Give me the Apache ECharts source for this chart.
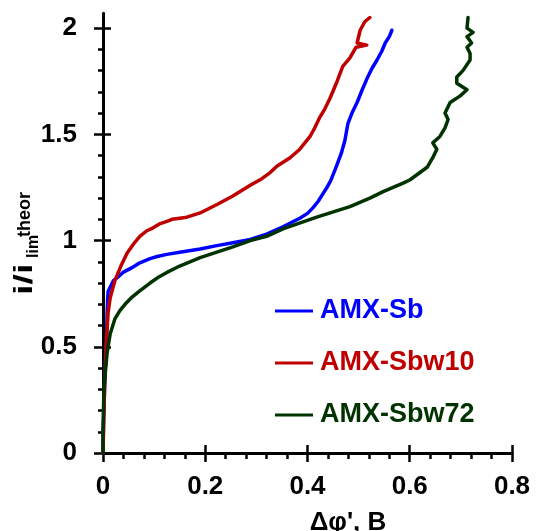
<!DOCTYPE html>
<html><head><meta charset="utf-8">
<script src="https://cdn.jsdelivr.net/npm/echarts@6/dist/echarts.min.js"></script>
<style>html,body{margin:0;padding:0;background:#fff}#c{width:537px;height:531px}</style>
</head><body><div id="c"></div>
<script>
// ---- data ----
const seriesNames = ['AMX-Sb', 'AMX-Sbw10', 'AMX-Sbw72'];
const seriesColors = ['#0000FF', '#C00000', '#003300'];

const sbX = [0, 0.001, 0.003, 0.005, 0.007, 0.008, 0.009, 0.010, 0.014, 0.020, 0.030, 0.039, 0.055, 0.072, 0.092, 0.106, 0.125, 0.150, 0.190, 0.220, 0.254, 0.288, 0.320, 0.352, 0.385, 0.400, 0.411, 0.421, 0.430, 0.438, 0.445, 0.455, 0.466, 0.473, 0.479, 0.487, 0.497, 0.507, 0.516, 0.526, 0.536, 0.545, 0.552, 0.560, 0.565];
const sbY = [0, 0.15, 0.30, 0.45, 0.55, 0.65, 0.72, 0.76, 0.78, 0.81, 0.83, 0.85, 0.87, 0.895, 0.915, 0.925, 0.935, 0.945, 0.96, 0.975, 0.99, 1.005, 1.03, 1.065, 1.105, 1.128, 1.155, 1.185, 1.22, 1.25, 1.28, 1.34, 1.41, 1.47, 1.55, 1.60, 1.65, 1.71, 1.76, 1.81, 1.85, 1.89, 1.93, 1.96, 1.99];

const w10X = [0, 0.001, 0.003, 0.006, 0.010, 0.014, 0.023, 0.035, 0.047, 0.060, 0.072, 0.085, 0.098, 0.112, 0.125, 0.135, 0.150, 0.164, 0.190, 0.223, 0.254, 0.288, 0.310, 0.327, 0.340, 0.366, 0.385, 0.405, 0.414, 0.424, 0.434, 0.444, 0.458, 0.469, 0.483, 0.495, 0.516, 0.497, 0.503, 0.512, 0.522];
const w10Y = [0, 0.10, 0.30, 0.50, 0.66, 0.73, 0.81, 0.88, 0.94, 0.985, 1.02, 1.045, 1.06, 1.08, 1.09, 1.10, 1.105, 1.11, 1.13, 1.17, 1.21, 1.26, 1.29, 1.32, 1.35, 1.39, 1.43, 1.49, 1.53, 1.58, 1.62, 1.67, 1.75, 1.82, 1.86, 1.91, 1.92, 1.93, 1.99, 2.03, 2.05];

const w72X = [0, 0.000, 0.002, 0.008, 0.014, 0.023, 0.033, 0.043, 0.055, 0.070, 0.092, 0.110, 0.125, 0.150, 0.190, 0.254, 0.288, 0.320, 0.352, 0.418, 0.483, 0.522, 0.548, 0.587, 0.600, 0.634, 0.645, 0.653, 0.645, 0.659, 0.669, 0.675, 0.669, 0.679, 0.698, 0.712, 0.692, 0.692, 0.704, 0.718, 0.718, 0.712, 0.721, 0.712, 0.724, 0.712, 0.714];
const w72Y = [0, 0.11, 0.31, 0.47, 0.56, 0.63, 0.67, 0.70, 0.73, 0.76, 0.80, 0.83, 0.85, 0.88, 0.92, 0.97, 1.00, 1.02, 1.055, 1.11, 1.16, 1.20, 1.23, 1.27, 1.285, 1.345, 1.39, 1.43, 1.46, 1.49, 1.53, 1.57, 1.60, 1.65, 1.68, 1.71, 1.74, 1.77, 1.80, 1.85, 1.88, 1.91, 1.93, 1.96, 1.98, 2.00, 2.05];

const xTickInterval = 0.2;
const yMajorTicks = [0, 0.5, 1, 1.5, 2];
const yMinorTicks = [0.1, 0.2, 0.3, 0.4, 0.6, 0.7, 0.8, 0.9, 1.1, 1.2, 1.3, 1.4, 1.6, 1.7, 1.8, 1.9];

// ---- chart ----
const FF = "'Liberation Sans', Arial, sans-serif";
const zip = (xs, ys) => xs.map((x, i) => [x, ys[i]]);
const seriesData = [zip(sbX, sbY), zip(w10X, w10Y), zip(w72X, w72Y)];

const axLine = {show: true, lineStyle: {color: '#000', width: 3}};
const tickStyle = {color: '#000', width: 2.5};
const Y_MAX = 2.07;

const chart = echarts.init(document.getElementById('c'), null, {renderer: 'canvas'});
chart.setOption({
  animation: false,
  backgroundColor: '#fff',
  grid: {left: 103, right: 25, top: 13.25, bottom: 78, containLabel: false, outerBoundsMode: 'none'},
  xAxis: [
    {type: 'value', min: 0, max: 0.8, interval: xTickInterval, position: 'bottom',
     axisLine: axLine,
     axisTick: {show: true, length: 9, lineStyle: tickStyle},
     minorTick: {show: true, splitNumber: 5, length: 6, lineStyle: tickStyle},
     splitLine: {show: false}, minorSplitLine: {show: false},
     axisLabel: {fontSize: 26, fontWeight: 'bold', color: '#000', fontFamily: FF, margin: 21}},
    {type: 'value', min: 0, max: 0.8, interval: xTickInterval, position: 'bottom',
     axisLine: {show: false},
     axisTick: {show: true, inside: true, length: 8, lineStyle: tickStyle},
     splitLine: {show: false}, axisLabel: {show: false}}
  ],
  yAxis: [
    {type: 'value', min: 0, max: Y_MAX, position: 'left',
     axisLine: axLine,
     axisTick: {show: true, length: 9, lineStyle: tickStyle, customValues: yMajorTicks},
     splitLine: {show: false},
     axisLabel: {fontSize: 26, fontWeight: 'bold', color: '#000', fontFamily: FF, margin: 26, customValues: yMajorTicks}},
    {type: 'value', min: 0, max: Y_MAX, position: 'left',
     axisLine: {show: false},
     axisTick: {show: true, inside: true, length: 8, lineStyle: tickStyle, customValues: yMajorTicks},
     splitLine: {show: false}, axisLabel: {show: false}},
    {type: 'value', min: 0, max: Y_MAX, position: 'left',
     axisLine: {show: false},
     axisTick: {show: true, length: 5, lineStyle: tickStyle, customValues: yMinorTicks},
     splitLine: {show: false}, axisLabel: {show: false}}
  ],
  legend: {
    orient: 'vertical', left: 275, top: 297, itemWidth: 38, itemHeight: 3, itemGap: 24,
    icon: 'rect', padding: 0,
    textStyle: {fontSize: 27, fontWeight: 'bold', fontFamily: FF, lineHeight: 28, padding: [0, 0, 0, 2]},
    data: seriesNames.map((n, i) => ({name: n, textStyle: {color: seriesColors[i]}}))
  },
  series: seriesNames.map((n, i) => ({
    name: n, type: 'line', xAxisIndex: 0, yAxisIndex: 0,
    data: seriesData[i], showSymbol: false, symbol: 'none',
    color: seriesColors[i],
    lineStyle: {color: seriesColors[i], width: 3.5, join: 'round', cap: 'round'}
  })),
  graphic: [
    {type: 'text', x: 38, y: 295, rotation: Math.PI / 2, scaleX: 1.45,
     style: {text: 'i/i', font: 'bold 26px ' + FF, fill: '#000', align: 'left', verticalAlign: 'bottom'}},
    {type: 'text', x: 42, y: 258, rotation: Math.PI / 2,
     style: {text: 'lim', font: 'bold 16px ' + FF, fill: '#000', align: 'left', verticalAlign: 'bottom'}},
    {type: 'text', x: 34, y: 237, rotation: Math.PI / 2,
     style: {text: 'theor', font: 'bold 18px ' + FF, fill: '#000', align: 'left', verticalAlign: 'bottom'}},
    {type: 'text', x: 348, y: 523,
     style: {text: "Δφ', B", font: 'bold 26px ' + FF, fill: '#000', align: 'center', verticalAlign: 'middle'}}
  ]
});
</script>
</body></html>
